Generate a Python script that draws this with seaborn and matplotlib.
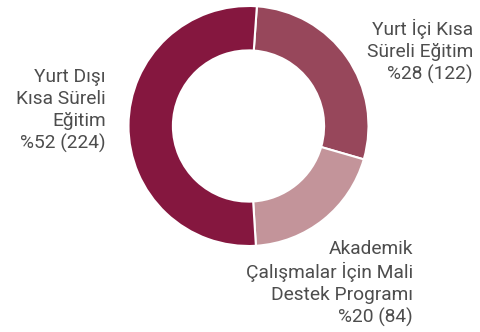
import matplotlib
matplotlib.use("Agg")
import matplotlib.pyplot as plt
import seaborn as sns

# Program categories, counts and slice colours
categories = [
    "Yurt İçi Kısa\nSüreli Eğitim",
    "Akademik\nÇalışmalar İçin Mali\nDestek Programı",
    "Yurt Dışı\nKısa Süreli\nEğitim",
]
counts = [122, 84, 224]
colors = ["#97475B", "#C3949A", "#85173F"]

# Label anchor points (right edge, vertical centre) in pie data units
label_pos = [(1.87, 0.62), (1.37, -1.31), (-1.19, 0.13)]

sns.set_theme(style="white")
plt.rcParams["font.family"] = ["Roboto", "DejaVu Sans"]

W, H = 481, 332
fig = plt.figure(figsize=(W / 100, H / 100), dpi=100)
cx, cy, r = 248.5, 126.0, 120.0
ax = fig.add_axes([(cx - r) / W, (H - cy - r) / H, 2 * r / W, 2 * r / H])

ax.pie(
    counts,
    colors=colors,
    startangle=86,
    counterclock=False,
    radius=1.0,
    wedgeprops=dict(width=0.37, edgecolor="white", linewidth=1.5),
)
ax.set_xlim(-1, 1)
ax.set_ylim(-1, 1)
ax.set_aspect("auto")
ax.axis("off")

total = sum(counts)
for cat, n, (x, y) in zip(categories, counts, label_pos):
    pct = round(n / total * 100)
    ax.text(
        x, y, f"{cat}\n%{pct} ({n})",
        ha="right", va="center", multialignment="right",
        fontsize=13.8, color="#4d4d4d", linespacing=1.26,
    )

fig.savefig("out.png", dpi=100, facecolor="white")
